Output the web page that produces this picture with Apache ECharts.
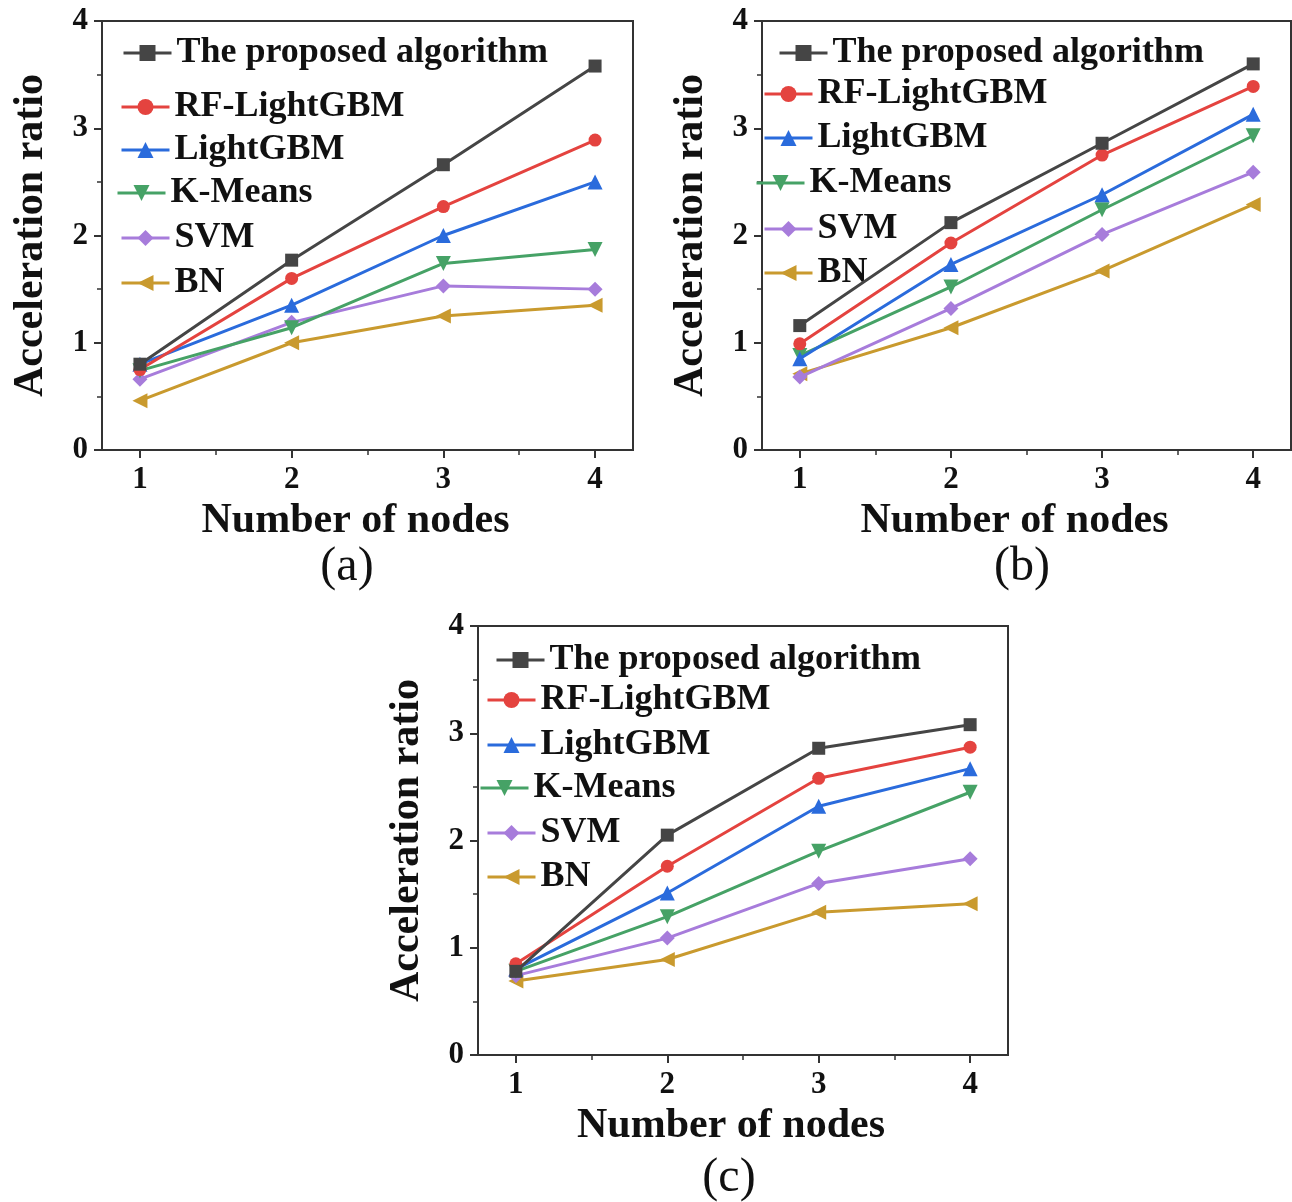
<!DOCTYPE html>
<html><head><meta charset="utf-8">
<script src="https://cdn.jsdelivr.net/npm/echarts@6/dist/echarts.min.js"></script>
<style>html,body{margin:0;padding:0;background:#fff}#c{width:1292px;height:1202px}</style>
</head><body><div id="c"></div>
<script>
// ---- data ----
const seriesNames = ['The proposed algorithm', 'RF-LightGBM', 'LightGBM', 'K-Means', 'SVM', 'BN'];
const nodeCounts = [1, 2, 3, 4];
const yTickValues = [0, 1, 2, 3, 4];
const panelLabels = ['(a)', '(b)', '(c)'];
const xAxisTitle = 'Number of nodes';
const yAxisTitle = 'Acceleration ratio';

const aProposed = [0.80, 1.77, 2.66, 3.58];
const aRF       = [0.75, 1.60, 2.27, 2.89];
const aLightGBM = [0.80, 1.35, 2.00, 2.50];
const aKMeans   = [0.74, 1.14, 1.74, 1.87];
const aSVM      = [0.66, 1.19, 1.53, 1.50];
const aBN       = [0.46, 1.00, 1.25, 1.35];

const bProposed = [1.16, 2.12, 2.86, 3.60];
const bRF       = [0.99, 1.93, 2.75, 3.39];
const bLightGBM = [0.85, 1.73, 2.38, 3.13];
const bKMeans   = [0.88, 1.52, 2.24, 2.93];
const bSVM      = [0.68, 1.32, 2.01, 2.59];
const bBN       = [0.71, 1.14, 1.67, 2.29];

const cProposed = [0.78, 2.05, 2.86, 3.08];
const cRF       = [0.85, 1.76, 2.58, 2.87];
const cLightGBM = [0.80, 1.51, 2.32, 2.67];
const cKMeans   = [0.78, 1.29, 1.90, 2.45];
const cSVM      = [0.74, 1.09, 1.60, 1.83];
const cBN       = [0.69, 0.89, 1.33, 1.41];

const panels = [
  [aProposed, aRF, aLightGBM, aKMeans, aSVM, aBN],
  [bProposed, bRF, bLightGBM, bKMeans, bSVM, bBN],
  [cProposed, cRF, cLightGBM, cKMeans, cSVM, cBN]
];

// ---- styles / layout ----
const FONT = "'Liberation Serif','Times New Roman',serif";
const colors = ['#454545', '#e4433f', '#2a6bdc', '#46a266', '#a77cdb', '#c99a2e'];
const symbols = ['rect', 'circle', 'triangle', 'triangle', 'diamond', 'triangle'];
const rotates = [0, 0, 0, 180, 0, 90];
const symSizes = [13, 13, 15, 15, 15, 15];
const grids = [
  {left: 102, top: 21, width: 531, height: 429},
  {left: 762, top: 21, width: 529, height: 429},
  {left: 478, top: 626, width: 530, height: 429}
];
const legendLefts = [
  [122, 120, 120, 116, 120, 120],
  [778, 763, 763, 755, 763, 763],
  [495, 486, 486, 479, 486, 486]
];
const legendCenters = [
  [53, 107, 150, 193, 238, 283],
  [53, 94, 138, 183, 229, 273],
  [660, 700, 745, 788, 833, 877]
];
const labelPos = [[347, 567], [1022, 567], [729, 1178]];

// helper tick positions (quarter steps spanning the padded x range)
const xPad = 0.25;
const helperCats = [];
for (let v = nodeCounts[0] - xPad; v <= nodeCounts[nodeCounts.length - 1] + xPad + 1e-9; v += 0.25) {
  helperCats.push(String(Math.round(v * 100) / 100));
}
const isMajor = (i) => nodeCounts.indexOf(Number(helperCats[i])) >= 0;
const isMinor = (i) => { const v = Number(helperCats[i]); return Math.abs(v * 2 - Math.round(v * 2)) < 1e-9 && !Number.isInteger(v); };

const axisColor = '#333';
const grid = [], xAxis = [], yAxis = [], series = [], legend = [], graphic = [];

panels.forEach((panel, p) => {
  grid.push(Object.assign({show: true, borderColor: axisColor, borderWidth: 2, backgroundColor: 'transparent'}, grids[p]));
  // value axis used by the data
  xAxis.push({gridIndex: p, type: 'value', min: nodeCounts[0] - xPad, max: nodeCounts[nodeCounts.length - 1] + xPad, show: false});
  // major ticks + labels
  xAxis.push({
    gridIndex: p, type: 'category', data: helperCats, boundaryGap: false, position: 'bottom',
    axisLine: {show: true, lineStyle: {color: axisColor, width: 2}},
    axisTick: {show: true, length: 8, interval: (i) => isMajor(i), lineStyle: {color: axisColor, width: 2}},
    axisLabel: {interval: (i) => isMajor(i), fontSize: 31, fontWeight: 'bold', fontFamily: FONT, color: '#111', margin: 14},
    splitLine: {show: false},
    name: xAxisTitle, nameLocation: 'middle', nameGap: 50,
    nameTextStyle: {fontSize: 42, fontWeight: 'bold', fontFamily: FONT, color: '#111', padding: [0, 24, 0, 0]}
  });
  // minor ticks
  xAxis.push({
    gridIndex: p, type: 'category', data: helperCats, boundaryGap: false, position: 'bottom',
    axisLine: {show: false},
    axisTick: {show: true, length: 5, interval: (i) => isMinor(i), lineStyle: {color: axisColor, width: 1.5}},
    axisLabel: {show: false}, splitLine: {show: false}
  });
  yAxis.push({
    gridIndex: p, type: 'value', min: yTickValues[0], max: yTickValues[yTickValues.length - 1], interval: 1,
    axisLine: {show: true, lineStyle: {color: axisColor, width: 2}},
    axisTick: {show: true, inside: false, length: 8, lineStyle: {color: axisColor, width: 2}},
    minorTick: {show: true, splitNumber: 2, length: 5, lineStyle: {color: axisColor, width: 1.5}},
    splitLine: {show: false}, minorSplitLine: {show: false},
    axisLabel: {fontSize: 31, fontWeight: 'bold', fontFamily: FONT, color: '#111', margin: 14},
    name: yAxisTitle, nameLocation: 'middle', nameGap: 50,
    nameTextStyle: {fontSize: 42, fontWeight: 'bold', fontFamily: FONT, color: '#111'}
  });
  panel.forEach((vals, s) => {
    series.push({
      type: 'line', name: seriesNames[s], xAxisIndex: p * 3, yAxisIndex: p,
      data: nodeCounts.map((x, k) => [x, vals[k]]),
      symbol: symbols[s], symbolSize: symSizes[s], symbolRotate: rotates[s],
      lineStyle: {color: colors[s], width: 3}, itemStyle: {color: colors[s]},
      z: 10 - s, animation: false
    });
    legend.push({
      data: [seriesNames[s]], orient: 'vertical', left: legendLefts[p][s], top: legendCenters[p][s] - 18,
      padding: 0, itemWidth: 48, itemHeight: 20, selectedMode: false,
      lineStyle: {width: 3},
      textStyle: {fontSize: 36, fontWeight: 'bold', fontFamily: FONT, color: '#111', lineHeight: 36}
    });
  });
  graphic.push({type: 'text', x: labelPos[p][0], y: labelPos[p][1],
    style: {text: panelLabels[p], font: "48px 'Liberation Serif', serif", fill: '#111', align: 'center', verticalAlign: 'middle'}});
});

const chart = echarts.init(document.getElementById('c'), null, {renderer: 'canvas'});
chart.setOption({backgroundColor: '#fff', animation: false, grid, xAxis, yAxis, series, legend, graphic});
</script></body></html>
